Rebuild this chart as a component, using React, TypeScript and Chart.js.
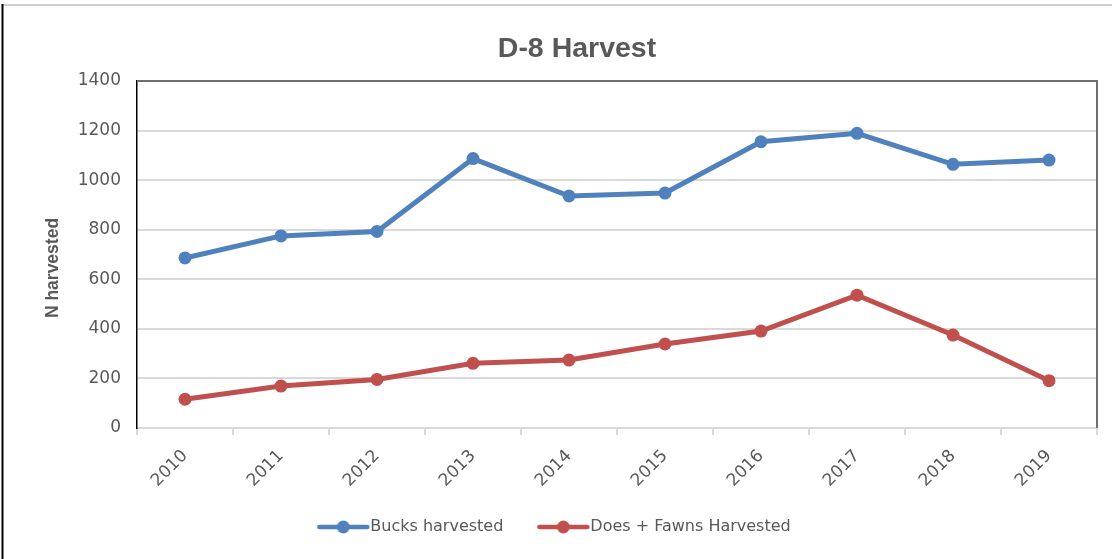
import React, { useEffect, useRef } from "react";
import Chart from "chart.js/auto";

const years = ["2010", "2011", "2012", "2013", "2014", "2015", "2016", "2017", "2018", "2019"];
const bucksHarvested = [686, 775, 793, 1087, 936, 948, 1155, 1189, 1064, 1081];
const doesFawnsHarvested = [116, 169, 196, 261, 274, 339, 391, 536, 375, 191];
const yTicks = [0, 200, 400, 600, 800, 1000, 1200, 1400];
const chartTitle = "D-8 Harvest";
const yTitle = "N harvested";

const BLUE = "#4f81bd";
const RED = "#c0504d";
const TEXT = "#595959";

function makeIcon(color: string): HTMLCanvasElement {
  const c = document.createElement("canvas");
  c.width = 72;
  c.height = 14;
  const ctx = c.getContext("2d")!;
  ctx.strokeStyle = color;
  ctx.lineWidth = 4.5;
  ctx.lineCap = "round";
  ctx.beginPath();
  ctx.moveTo(21, 7);
  ctx.lineTo(69, 7);
  ctx.stroke();
  ctx.fillStyle = color;
  ctx.beginPath();
  ctx.arc(45, 7, 6.5, 0, Math.PI * 2);
  ctx.fill();
  return c;
}

const framePlugin = {
  id: "frame",
  beforeDraw(chart: any) {
    const ctx = chart.ctx;
    ctx.save();
    ctx.fillStyle = "#ffffff";
    ctx.fillRect(0, 0, chart.width, chart.height);
    ctx.strokeStyle = "#d0d0d0";
    ctx.lineWidth = 2;
    ctx.beginPath();
    ctx.moveTo(2, 5);
    ctx.lineTo(chart.width, 5);
    ctx.stroke();
    ctx.strokeStyle = "#000000";
    ctx.lineWidth = 2;
    ctx.beginPath();
    ctx.moveTo(2.5, 4);
    ctx.lineTo(2.5, chart.height);
    ctx.stroke();
    ctx.restore();
  },
  afterDraw(chart: any) {
    const { left, right, top, bottom } = chart.chartArea;
    const ctx = chart.ctx;
    ctx.save();
    ctx.strokeStyle = "#6f6f6f";
    ctx.lineWidth = 2;
    ctx.beginPath();
    ctx.moveTo(left, top);
    ctx.lineTo(right, top);
    ctx.lineTo(right, bottom);
    ctx.stroke();
    // chart title
    ctx.fillStyle = TEXT;
    ctx.font = "bold 28.5px 'Liberation Sans', Arial, sans-serif";
    ctx.textAlign = "center";
    ctx.textBaseline = "alphabetic";
    ctx.fillText(chartTitle, 577, 57);
    // y axis title
    ctx.translate(58, 268);
    ctx.rotate(-Math.PI / 2);
    ctx.font = "bold 17.5px 'Liberation Sans', Arial, sans-serif";
    ctx.textAlign = "center";
    ctx.textBaseline = "alphabetic";
    ctx.fillText(yTitle, 0, 0);
    ctx.restore();
  },
};

export default function App() {
  const ref = useRef<HTMLCanvasElement | null>(null);

  useEffect(() => {
    if (!ref.current) return;
    const icons = [makeIcon(BLUE), makeIcon(RED)];
    const chart = new Chart(ref.current, {
      type: "line",
      data: {
        labels: years,
        datasets: [
          {
            label: "Bucks harvested",
            data: bucksHarvested,
            borderColor: BLUE,
            backgroundColor: BLUE,
            borderWidth: 5,
            pointRadius: 6.5,
            pointBackgroundColor: BLUE,
            pointBorderWidth: 0,
            tension: 0,
          },
          {
            label: "Does + Fawns Harvested",
            data: doesFawnsHarvested,
            borderColor: RED,
            backgroundColor: RED,
            borderWidth: 5,
            pointRadius: 6.5,
            pointBackgroundColor: RED,
            pointBorderWidth: 0,
            tension: 0,
          },
        ],
      },
      options: {
        animation: false,
        responsive: true,
        maintainAspectRatio: false,
        layout: { padding: { left: 0, right: 15, top: 81, bottom: 14 } },
        plugins: {
          title: { display: false },
          legend: {
            position: "bottom",
            labels: {
              usePointStyle: true,
              pointStyleWidth: 56,
              color: TEXT,
              padding: 23,
              font: { family: "'DejaVu Sans', sans-serif", size: 16 },
              generateLabels: (c: any) =>
                Chart.defaults.plugins.legend.labels
                  .generateLabels(c)
                  .map((l: any, i: number) => ({ ...l, pointStyle: icons[i] })),
            },
          },
          tooltip: { enabled: false },
        },
        scales: {
          x: {
            offset: true,
            grid: {
              offset: true,
              drawOnChartArea: false,
              drawTicks: true,
              tickLength: 7,
              color: "#d9d9d9",
              lineWidth: 2,
            },
            border: { color: "#d9d9d9", width: 2 },
            ticks: {
              color: TEXT,
              minRotation: 45,
              maxRotation: 45,
              padding: 11,
              font: { family: "'DejaVu Sans', sans-serif", size: 17 },
            },
            afterFit: (scale: any) => {
              scale.height = 68;
            },
          },
          y: {
            min: 0,
            max: 1400,
            afterBuildTicks: (scale: any) => {
              scale.ticks = yTicks.map((v) => ({ value: v }));
            },
            grid: { color: "#d9d9d9", lineWidth: 2, drawTicks: false },
            border: { color: "#000000", width: 1.5 },
            ticks: {
              color: TEXT,
              padding: 16,
              font: { family: "'DejaVu Sans', sans-serif", size: 17 },
              callback: (v: any) => String(v),
            },
            afterFit: (scale: any) => {
              scale.width = 137;
            },
          },
        },
      },
      plugins: [framePlugin],
    });
    return () => chart.destroy();
  }, []);

  return (
    <div style={{ position: "absolute", left: 0, top: 0, width: 1112, height: 559 }}>
      <canvas ref={ref} />
    </div>
  );
}
